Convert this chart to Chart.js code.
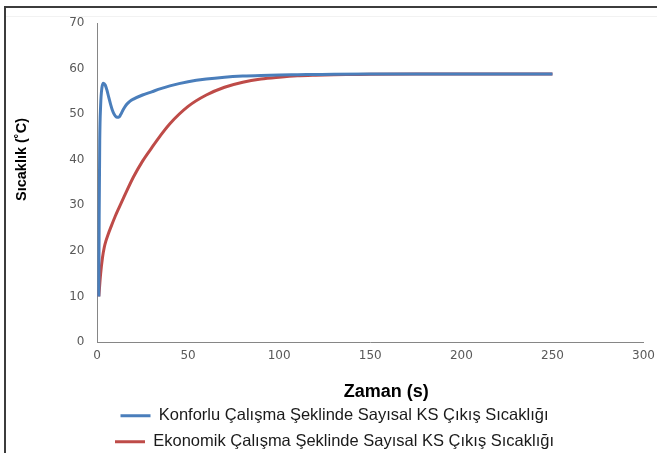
<!DOCTYPE html>
<html>
<head>
<meta charset="utf-8">
<script src="https://cdn.jsdelivr.net/npm/chart.js@4"></script>
<style>
    html, body { margin: 0; padding: 0; background: #ffffff; }
    #wrap { position: relative; width: 657px; height: 453px; overflow: hidden; }
    #chart { position: absolute; left: 0; top: 0; }
    .edge { position: absolute; background: #3c3c3c; }
    .edge.top { left: 4px; top: 6px; width: 653px; height: 2px; }
    .edge.left { left: 4px; top: 6px; width: 2px; height: 447px; }
    .edge.faint { left: 6px; top: 16px; width: 651px; height: 1px; background: #f2f2f2; }
</style>
</head>
<body>
<div id="wrap">
    <canvas id="chart" width="657" height="453"></canvas>
    <div class="edge top"></div>
    <div class="edge left"></div>
    <div class="edge faint"></div>
</div>
<script>
// time (s) and temperature (°C)
const comfortTime = [1, 1.2, 1.5, 2, 2.7, 3.5, 4.5, 5.5, 6.5, 7.5, 8.5, 9.5, 10.5, 11.9, 13, 14, 15, 16, 18, 20,
    25, 30, 35, 40, 50, 60, 70, 80, 90, 100, 110, 120, 130, 150, 175, 200, 250];
const comfortTemp = [10, 28, 44, 52, 55.8, 56.8, 56.4, 55.2, 53.6, 52.1, 50.8, 49.9, 49.4, 49.3, 49.9, 50.7, 51.4, 52, 52.8, 53.3,
    54.2, 54.9, 55.6, 56.2, 57.1, 57.7, 58.1, 58.35, 58.5, 58.6, 58.65, 58.7, 58.75, 58.8, 58.8, 58.8, 58.8];

const ecoTime = [1, 2, 3, 4, 5, 6, 8, 10, 12, 15, 20, 25, 30, 35, 40, 50, 60, 70, 80, 90,
    100, 110, 120, 130, 140, 150, 175, 200, 250];
const ecoTemp = [10, 15, 18.5, 20.8, 22.3, 23.5, 25.6, 27.6, 29.4, 32, 36.2, 39.7, 42.6, 45.4, 47.9, 51.7, 54.2, 55.9, 57, 57.7,
    58.1, 58.4, 58.55, 58.65, 58.7, 58.75, 58.8, 58.8, 58.8];

const seriesNames = [
    'Konforlu Çalışma Şeklinde Sayısal KS Çıkış Sıcaklığı',
    'Ekonomik Çalışma Şeklinde Sayısal KS Çıkış Sıcaklığı',
];
const xTitle = 'Zaman (s)';
const yTitle = 'Sıcaklık (˚C)';
const xTicks = [0, 50, 100, 150, 200, 250, 300];
const yTicks = [0, 10, 20, 30, 40, 50, 60, 70];

const toPoints = (xs, ys) => xs.map((x, i) => ({ x, y: ys[i] }));

const AXIS = '#868686';
const TICK_TEXT = '#595959';
const TITLE_FONT = "bold %spx 'Liberation Sans', Arial, sans-serif";

// axis titles sit off-centre in the original, so draw them ourselves
const axisTitles = {
    id: 'axisTitles',
    afterDraw(chart) {
        const { ctx, chartArea: a } = chart;
        ctx.save();
        ctx.fillStyle = '#000000';
        ctx.textAlign = 'center';
        ctx.textBaseline = 'middle';
        ctx.font = TITLE_FONT.replace('%s', 18);
        ctx.fillText(xTitle, (a.left + a.right) / 2 + 16, a.bottom + 50);
        ctx.translate(a.left - 75, (a.top + a.bottom) / 2 - 23);
        ctx.rotate(-Math.PI / 2);
        ctx.font = TITLE_FONT.replace('%s', 14.5);
        ctx.fillText(yTitle, 0, 0);
        ctx.restore();
    },
};

new Chart(document.getElementById('chart'), {
    type: 'line',
    data: {
        datasets: [
            {
                label: seriesNames[0],
                data: toPoints(comfortTime, comfortTemp),
                borderColor: '#4a7ebb',
                backgroundColor: '#4a7ebb',
                borderWidth: 3,
                pointRadius: 0,
                cubicInterpolationMode: 'monotone',
            },
            {
                label: seriesNames[1],
                data: toPoints(ecoTime, ecoTemp),
                borderColor: '#be4b48',
                backgroundColor: '#be4b48',
                borderWidth: 3,
                pointRadius: 0,
                cubicInterpolationMode: 'monotone',
            },
        ],
    },
    plugins: [axisTitles],
    options: {
        responsive: false,
        animation: false,
        layout: { padding: { left: 9, right: -3, top: 23, bottom: -7 } },
        plugins: {
            tooltip: { enabled: false },
            legend: {
                position: 'bottom',
                labels: {
                    usePointStyle: true,
                    pointStyle: 'line',
                    pointStyleWidth: 30,
                    padding: 9.5,
                    color: '#1a1a1a',
                    font: { family: "'Liberation Sans', Arial, sans-serif", size: 16.5 },
                },
            },
        },
        scales: {
            x: {
                type: 'linear',
                min: 0,
                max: 300,
                afterBuildTicks: (s) => { s.ticks = xTicks.map(v => ({ value: v })); },
                afterFit: (s) => { s.height = 56; },
                grid: { display: false, drawTicks: true, tickLength: 5, tickColor: AXIS },
                border: { color: AXIS, width: 1 },
                ticks: {
                    color: TICK_TEXT,
                    padding: 2,
                    maxRotation: 0,
                    font: { family: "'DejaVu Sans', sans-serif", size: 12 },
                },
            },
            y: {
                min: 0,
                max: 70,
                afterBuildTicks: (s) => { s.ticks = yTicks.map(v => ({ value: v })); },
                afterFit: (s) => { s.width = 88; },
                grid: { display: false, drawTicks: true, tickLength: 5, tickColor: AXIS },
                border: { color: AXIS, width: 1 },
                ticks: {
                    color: TICK_TEXT,
                    padding: 7.5,
                    font: { family: "'DejaVu Sans', sans-serif", size: 12 },
                },
            },
        },
    },
});
</script>
</body>
</html>
